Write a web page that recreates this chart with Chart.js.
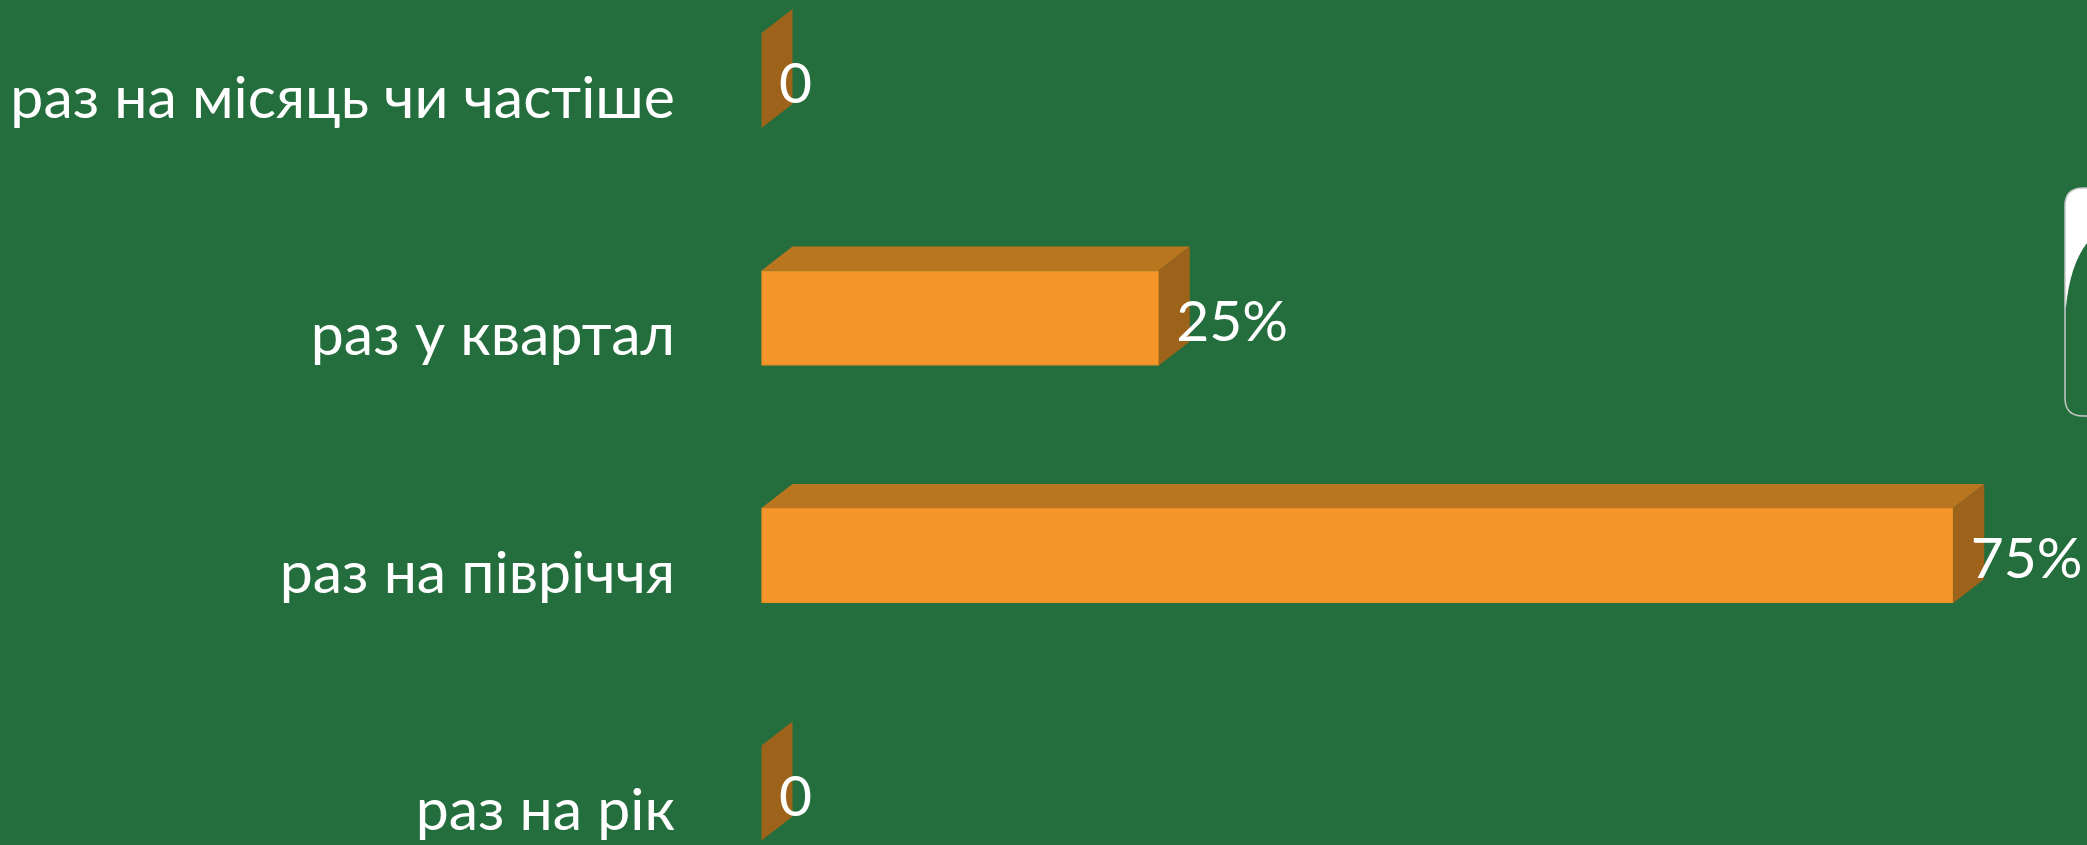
<!DOCTYPE html>
<html>
<head>
<meta charset="utf-8">
<script src="https://cdn.jsdelivr.net/npm/chart.js@4.4.1/dist/chart.umd.min.js"></script>
<style>
  html, body { margin: 0; padding: 0; background: #236E3C; overflow: hidden; }
  #wrap { position: absolute; left: 0; top: 0; width: 2087px; height: 845px; }
</style>
</head>
<body>
<div id="wrap"><canvas id="c"></canvas></div>
<script>
// ---- data ----
const categories = ['раз на місяць чи частіше', 'раз у квартал', 'раз на півріччя', 'раз на рік'];
const shares = [0, 25, 75, 0];
const valueLabels = ['0', '25%', '75%', '0'];

// ---- style ----
const BG = '#236E3C';
const FRONT = '#F5962A';
const TOP = '#BA761F';
const SIDE = '#9D631A';
const FONT = 'Lato, "Open Sans", sans-serif';
const DX = 31, DY = 24;

const bar3d = {
  id: 'bar3d',
  beforeDraw(chart) {
    const ctx = chart.ctx;
    ctx.save();
    ctx.fillStyle = BG;
    ctx.fillRect(0, 0, chart.width, chart.height);
    ctx.restore();
  },
  afterDatasetsDraw(chart) {
    const ctx = chart.ctx;
    const meta = chart.getDatasetMeta(0);
    ctx.save();
    meta.data.forEach((el) => {
      const { x, y, base, height } = el.getProps(['x', 'y', 'base', 'height'], true);
      const top = y - height / 2, bot = y + height / 2;
      ctx.fillStyle = TOP;
      ctx.beginPath();
      ctx.moveTo(base, top);
      ctx.lineTo(base + DX, top - DY);
      ctx.lineTo(x + DX, top - DY);
      ctx.lineTo(x, top);
      ctx.closePath();
      ctx.fill();
      ctx.fillStyle = SIDE;
      ctx.beginPath();
      ctx.moveTo(x, top);
      ctx.lineTo(x + DX, top - DY);
      ctx.lineTo(x + DX, bot - DY);
      ctx.lineTo(x, bot);
      ctx.closePath();
      ctx.fill();
    });
    ctx.fillStyle = '#FFFFFF';
    ctx.font = '57px ' + FONT;
    ctx.textAlign = 'left';
    ctx.textBaseline = 'alphabetic';
    meta.data.forEach((el, i) => {
      const { x, y } = el.getProps(['x', 'y'], true);
      ctx.fillText(valueLabels[i], x + 17.5, y + 22.5);
    });
    ctx.restore();
  },
  afterDraw(chart) {
    const ctx = chart.ctx;
    ctx.save();
    const x0 = 2065, y0 = 188, y1 = 416, r = 18, x1 = 2120;
    ctx.fillStyle = '#FFFFFF';
    ctx.beginPath();
    ctx.moveTo(x0, 307);
    ctx.lineTo(x0, y0 + r);
    ctx.quadraticCurveTo(x0, y0, x0 + r, y0);
    ctx.lineTo(x1, y0);
    ctx.lineTo(2087, 243);
    ctx.quadraticCurveTo(2070, 265, x0 + 1, 307);
    ctx.closePath();
    ctx.fill();
    ctx.strokeStyle = '#C8C8C8';
    ctx.lineWidth = 1.5;
    ctx.beginPath();
    ctx.moveTo(x1, y1);
    ctx.lineTo(x0 + r, y1);
    ctx.quadraticCurveTo(x0, y1, x0, y1 - r);
    ctx.lineTo(x0, y0 + r);
    ctx.quadraticCurveTo(x0, y0, x0 + r, y0);
    ctx.lineTo(x1, y0);
    ctx.stroke();
    ctx.restore();
  }
};

new Chart(document.getElementById('c'), {
  type: 'bar',
  data: {
    labels: categories,
    datasets: [{
      data: shares,
      backgroundColor: FRONT,
      borderColor: '#E28A27',
      borderWidth: 1,
      borderSkipped: false,
      barThickness: 95,
      clip: false
    }]
  },
  options: {
    indexAxis: 'y',
    responsive: true,
    maintainAspectRatio: false,
    animation: false,
    layout: { padding: { left: 0, right: 54.3, top: 80.5, bottom: 52 } },
    plugins: { legend: { display: false }, tooltip: { enabled: false } },
    scales: {
      x: { min: 0, max: 80, display: false },
      y: {
        type: 'category',
        offset: false,
        position: 'left',
        grid: { display: false, drawTicks: false },
        border: { display: false },
        ticks: {
          color: '#FFFFFF',
          font: { family: FONT, size: 59 },
          padding: 86.5,
          labelOffset: 18
        },
        afterFit(scale) {
          scale.width = 761.5;
          scale.paddingTop = 0;
          scale.paddingBottom = 0;
        }
      }
    }
  },
  plugins: [bar3d]
});
</script>
</body>
</html>
